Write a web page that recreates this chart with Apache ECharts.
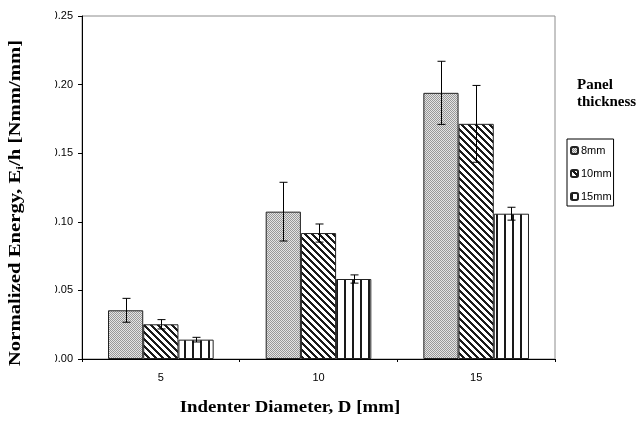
<!DOCTYPE html>
<html>
<head>
<meta charset="utf-8">
<script src="https://cdn.jsdelivr.net/npm/echarts@6/dist/echarts.min.js"></script>
<style>
  html, body { margin: 0; padding: 0; background: #fff; }
  #chart { width: 640px; height: 425px; }
</style>
</head>
<body>
<div id="chart"></div>
<script>
// Indenter diameters (mm)
const diameters = ['5', '10', '15'];
// Panel thickness groups
const thicknesses = ['8mm', '10mm', '15mm'];
// Mean normalized energy Ei/h [Nmm/mm] per diameter
const energy8 = [0.0355, 0.1074, 0.194];
const energy10 = [0.0253, 0.0918, 0.1714];
const energy15 = [0.0141, 0.0583, 0.1059];
// Half-widths of the error bars
const err8 = [0.0087, 0.0214, 0.023];
const err10 = [0.0034, 0.0066, 0.028];
const err15 = [0.0017, 0.003, 0.0047];
// Value axis ticks
const yMin = 0, yMax = 0.25, yStep = 0.05;

// Pattern tiles for the bar fills
function tile(w, h, draw) {
  const c = document.createElement('canvas');
  c.width = w; c.height = h;
  const g = c.getContext('2d');
  g.fillStyle = '#fff';
  g.fillRect(0, 0, w, h);
  draw(g);
  return { image: c, repeat: 'repeat' };
}
// fine grey checker
const fill8 = tile(2, 2, g => {
  g.fillStyle = '#e4e4e4'; g.fillRect(0, 0, 2, 2);
  g.fillStyle = '#989898'; g.fillRect(0, 0, 1, 1); g.fillRect(1, 1, 1, 1);
});
// diagonal stripes running down to the right
const fill10 = tile(7, 7, g => {
  g.fillStyle = '#1a1a1a';
  for (let y = 0; y < 7; y++) for (let x = 0; x < 7; x++) {
    const d = ((x - y) % 7 + 7) % 7;
    if (d < 3) g.fillRect(x, y, 1, 1);
  }
});
// vertical stripes
const fill15 = tile(8, 1, g => {
  g.fillStyle = '#1a1a1a';
  g.fillRect(0, 0, 2, 1);
});

const fills = [fill8, fill10, fill15];
const values = [energy8, energy10, energy15];
const errors = [err8, err10, err15];
const catGap = 0.33;

const barSeries = thicknesses.map((name, i) => ({
  name: name,
  type: 'bar',
  data: values[i],
  barGap: '0%',
  barCategoryGap: (catGap * 100) + '%',
  itemStyle: { color: fills[i], borderColor: '#222', borderWidth: 1 },
  emphasis: { disabled: true },
  z: 2
}));

const errSeries = thicknesses.map((name, i) => ({
  type: 'custom',
  silent: true,
  z: 5,
  encode: { x: 0, y: 1 },
  data: values[i].map((v, k) => [k, v, errors[i][k]]),
  renderItem: function (params, api) {
    const cat = api.value(0), v = api.value(1), e = api.value(2);
    const catW = api.size([1, 0])[0];
    const barW = catW * (1 - catGap) / thicknesses.length;
    const c = api.coord([cat, v]);
    const x = Math.round(c[0] + (i - 1) * barW) + 0.5;
    const yTop = api.coord([cat, v + e])[1];
    const yBot = api.coord([cat, v - e])[1];
    const cap = 4;
    const st = { stroke: '#000', lineWidth: 1 };
    return {
      type: 'group',
      children: [
        { type: 'line', shape: { x1: x, y1: yTop, x2: x, y2: yBot }, style: st },
        { type: 'line', shape: { x1: x - cap, y1: yTop, x2: x + cap, y2: yTop }, style: st },
        { type: 'line', shape: { x1: x - cap, y1: yBot, x2: x + cap, y2: yBot }, style: st }
      ]
    };
  }
}));

const chart = echarts.init(document.getElementById('chart'), null, { renderer: 'canvas' });
chart.setOption({
  animation: false,
  backgroundColor: '#fff',
  grid: {
    left: 82, right: 85, top: 16, bottom: 66,
    show: true, borderColor: '#8c8c8c', borderWidth: 1, backgroundColor: 'transparent'
  },
  legend: {
    data: thicknesses,
    orient: 'vertical',
    left: 567, top: 139,
    padding: [6, 2, 4, 3],
    itemWidth: 7, itemHeight: 7, itemGap: 12,
    borderColor: '#000', borderWidth: 1,
    selectedMode: false,
    textStyle: { fontFamily: 'Liberation Sans, Arial', fontSize: 11, color: '#000', padding: [0, 0, 0, -2] }
  },
  xAxis: {
    type: 'category',
    data: diameters,
    axisLine: { lineStyle: { color: '#000', width: 1 } },
    axisTick: { show: true, length: 3, inside: false, lineStyle: { color: '#000' } },
    axisLabel: { margin: 13, fontFamily: 'Liberation Sans, Arial', fontSize: 11, color: '#000' },
    splitLine: { show: false }
  },
  yAxis: {
    type: 'value',
    min: yMin, max: yMax, interval: yStep,
    axisLine: { show: true, lineStyle: { color: '#000', width: 1 } },
    axisTick: { show: true, length: 4, lineStyle: { color: '#000' } },
    axisLabel: {
      margin: 9, fontFamily: 'Liberation Sans, Arial', fontSize: 11, color: '#000',
      formatter: v => v.toFixed(2)
    },
    splitLine: { show: false }
  },
  series: barSeries.concat(errSeries),
  graphic: [
    // white strip that trims the leading digit of the value labels
    { type: 'rect', left: 27, top: 0, shape: { width: 28, height: 372 }, style: { fill: '#fff' }, z: 100 },
    {
      type: 'text', z: 101,
      x: 16, y: 203, rotation: Math.PI / 2, scaleX: 1.22,
      style: {
        text: '{b|Normalized Energy, E}{s|i}{b|/h [Nmm/mm]}',
        align: 'center', verticalAlign: 'middle',
        rich: {
          b: { fontFamily: 'Liberation Serif, Times New Roman', fontWeight: 'bold', fontSize: 17, fill: '#000', lineHeight: 20 },
          s: { fontFamily: 'Liberation Serif, Times New Roman', fontWeight: 'bold', fontSize: 11, fill: '#000', lineHeight: 20, padding: [9, 0, 0, 0] }
        }
      }
    },
    {
      type: 'text', z: 101,
      x: 290, y: 408, scaleX: 1.11,
      style: {
        text: 'Indenter Diameter, D [mm]',
        align: 'center', verticalAlign: 'middle',
        fontFamily: 'Liberation Serif, Times New Roman', fontWeight: 'bold', fontSize: 17, fill: '#000'
      }
    },
    {
      type: 'text', z: 101,
      x: 577, y: 77,
      style: {
        text: 'Panel\nthickness',
        align: 'left', verticalAlign: 'top', lineHeight: 17,
        fontFamily: 'Liberation Serif, Times New Roman', fontWeight: 'bold', fontSize: 15, fill: '#000'
      }
    }
  ]
});
</script>
</body>
</html>
